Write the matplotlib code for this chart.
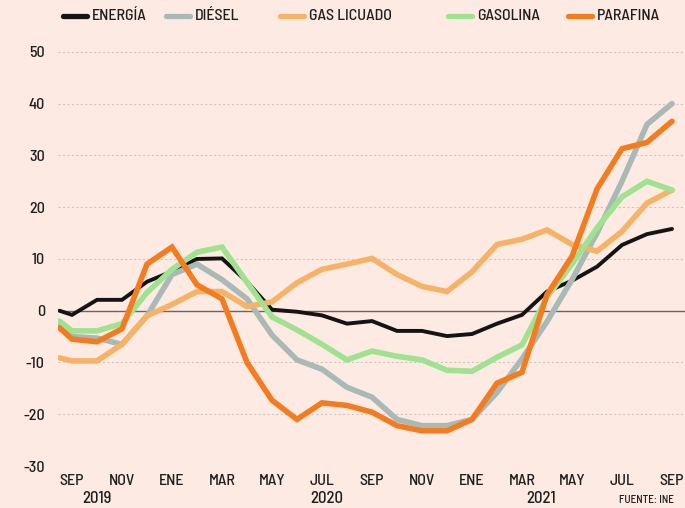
import numpy as np
import matplotlib
matplotlib.use("Agg")
import matplotlib.pyplot as plt
from matplotlib.lines import Line2D

# month index: 0 = SEP 2019 ... 24 = SEP 2021 (first point sits half a month earlier)
months = [-0.5] + list(range(25))

energia = [0, -0.8, 2.1, 2.1, 5.6, 7.6, 10, 10.1, 5.6, 0.2, -0.2, -0.9, -2.5, -2.0,
           -3.9, -3.9, -4.9, -4.5, -2.5, -0.8, 3.7, 5.8, 8.5, 12.7, 14.8, 15.8]
diesel = [-3, -5, -5.3, -6.5, -1, 7, 9, 6, 2.3, -4.7, -9.5, -11.3, -14.8, -16.7,
          -21, -22.2, -22.2, -21, -15.8, -9.3, -2.1, 6, 15, 25, 36, 40]
gas_licuado = [-9.1, -9.7, -9.7, -6.5, -1, 1.2, 3.7, 3.7, 0.8, 1.7, 5.4, 8, 9, 10.1,
               7, 4.7, 3.7, 7.5, 12.8, 13.8, 15.6, 12.8, 11.5, 15.3, 20.8, 23.3]
gasolina = [-2, -3.9, -3.9, -2.5, 3.5, 8, 11.3, 12.3, 5.5, -1.2, -3.7, -6.5, -9.5, -7.8,
            -8.8, -9.5, -11.5, -11.7, -9, -6.6, 2.6, 9, 16, 22, 25, 23.3]
parafina = [-3.3, -5.5, -6, -3.5, 9, 12.3, 5, 2.3, -10, -17.3, -21, -17.8, -18.3, -19.6,
            -22.2, -23.2, -23.2, -21, -14, -11.9, 3.1, 10.5, 23.5, 31.3, 32.5, 36.6]

month_labels = ["SEP", "NOV", "ENE", "MAR", "MAY", "JUL", "SEP",
                "NOV", "ENE", "MAR", "MAY", "JUL", "SEP"]
year_labels = ["2019", "2020", "2021"]
yticks = [-30, -20, -10, 0, 10, 20, 30, 40, 50]

BG = "#fdeae3"
TXT = "#1e1e1e"
FONT = ["Barlow Semi Condensed", "DejaVu Sans"]

series = [
    ("ENERGÍA", energia, "#141414", 2.8),
    ("DIÉSEL", diesel, "#a8b9b6", 4.0),
    ("GAS LICUADO", gas_licuado, "#f6b266", 4.0),
    ("GASOLINA", gasolina, "#9fe28f", 4.0),
    ("PARAFINA", parafina, "#f47c20", 4.0),
]

fig = plt.figure(figsize=(6.85, 5.08), dpi=100, facecolor=BG)
ax = fig.add_axes([58 / 685, 1 - 466 / 508, 627 / 685, 426 / 508])
ax.set_facecolor(BG)

for y in yticks:
    if y == 0:
        ax.axhline(0, color="#6b6461", lw=1.0, zorder=1)
    else:
        ax.axhline(y, color="#cfc6c2", lw=0.8, ls=(0, (2, 2)), zorder=1)

# draw order: gas licuado, diesel, energia, gasolina, parafina on top
for idx in [2, 1, 0, 3, 4]:
    name, vals, color, lw = series[idx]
    ax.plot(months, vals, color=color, lw=lw, solid_joinstyle="miter",
            solid_capstyle="round", zorder=2 + idx)

ax.set_xlim(-0.56, 24.52)
ax.set_ylim(-30, 52.3)
for s in ax.spines.values():
    s.set_visible(False)
ax.tick_params(length=0)
ax.set_yticks(yticks)
ax.set_yticklabels([str(v) for v in yticks], fontsize=11.5, color=TXT,
                   family=FONT, weight="medium")
ax.tick_params(axis="y", pad=9.5)

ax.set_xticks(range(0, 25, 2))
ax.set_xticklabels(month_labels, fontsize=11.5, color=TXT, family=FONT,
                   weight="medium")
ax.tick_params(axis="x", pad=6)

for x, yr in zip([1.0, 10.2, 18.76], year_labels):
    ax.text(x, -36.3, yr, ha="center", va="center", fontsize=12, color=TXT,
            family=FONT, weight="medium", clip_on=False)
ax.text(22.96, -36.6, "FUENTE: INE", ha="center", va="center", fontsize=8,
        color=TXT, family=FONT, weight="medium", clip_on=False)

# legend across the top
leg_x = [63, 166, 280, 448, 568]
for (name, vals, color, lw), lx in zip(series, leg_x):
    fig.add_artist(Line2D([lx / 685, (lx + 24) / 685], [1 - 16 / 508] * 2,
                          color=color, lw=3.8, solid_capstyle="round"))
    fig.text((lx + 29) / 685, 1 - 16 / 508, name, ha="left", va="center",
             fontsize=11.5, color=TXT, family=FONT, weight="medium")

fig.savefig("out.png", dpi=100, facecolor=BG)
